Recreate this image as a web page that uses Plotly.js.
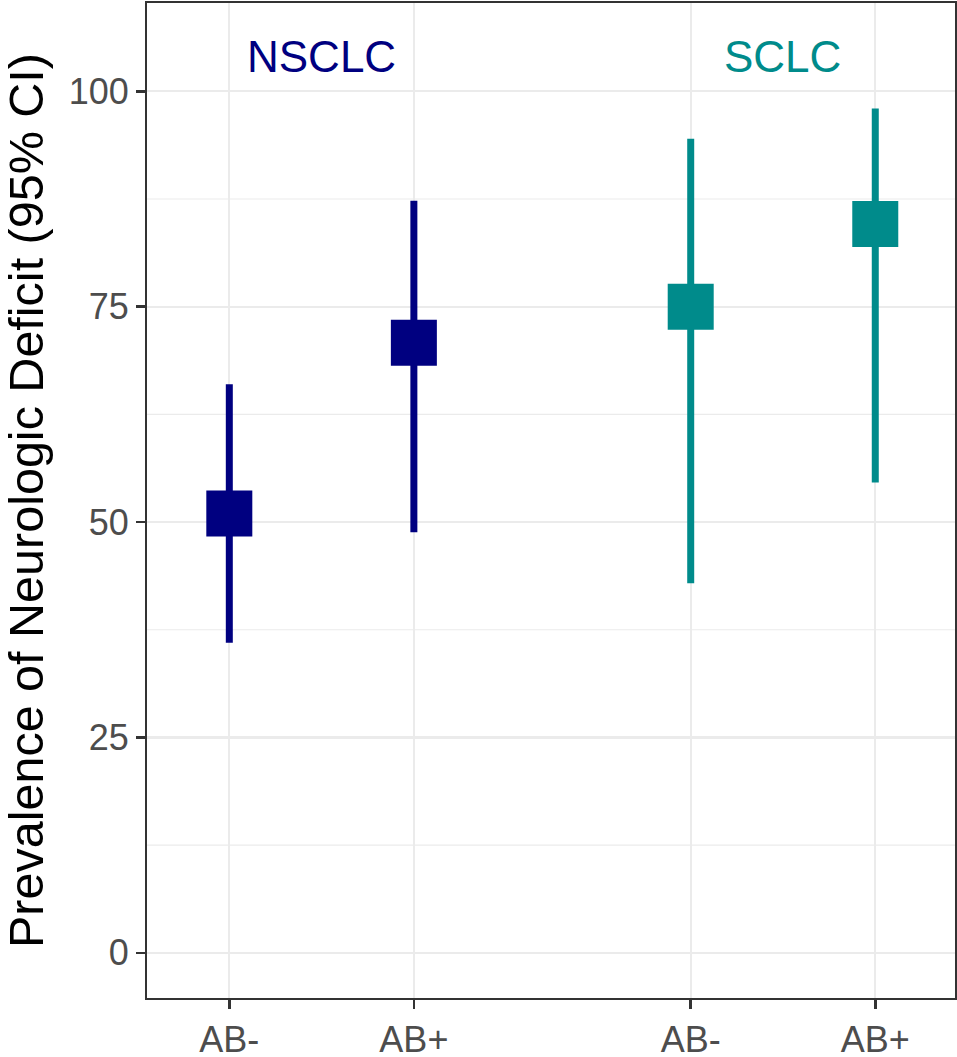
<!DOCTYPE html>
<html>
<head>
<meta charset="utf-8">
<script src="https://cdn.plot.ly/plotly-3.0.1.min.js"></script>
<style>html,body{margin:0;padding:0;background:#fff;}#chart{width:957px;height:1057px;}</style>
</head>
<body>
<div id="chart"></div>
<script>
const tickPositions = [1, 2, 3.5, 4.5];
const tickLabels = ["AB-", "AB+", "AB-", "AB+"];
const groups = ["NSCLC", "SCLC"];
const groupColors = ["#000080", "#008B8B"];
const nsclcX = [1, 2];
const nsclcEst = [51.0, 70.8];
const nsclcLo = [36.0, 48.8];
const nsclcHi = [66.0, 87.3];
const sclcX = [3.5, 4.5];
const sclcEst = [75.0, 84.6];
const sclcLo = [42.9, 54.6];
const sclcHi = [94.5, 98.0];
const labelX = [1.5, 4.0];
const labelY = [104, 104];

function makeTrace(x, est, lo, hi, color, name) {
  return {
    type: 'scatter', mode: 'markers', name: name, x: x, y: est,
    marker: {symbol: 'square', size: 46, color: color, line: {width: 0}},
    error_y: {type: 'data', symmetric: false,
      array: est.map((v, i) => hi[i] - v),
      arrayminus: est.map((v, i) => v - lo[i]),
      thickness: 7, width: 0, color: color},
    hoverinfo: 'x+y', showlegend: false
  };
}

const data = [
  makeTrace(nsclcX, nsclcEst, nsclcLo, nsclcHi, groupColors[0], groups[0]),
  makeTrace(sclcX, sclcEst, sclcLo, sclcHi, groupColors[1], groups[1])
];

const minorVals = [12.5, 37.5, 62.5, 87.5];
const shapes = minorVals.map(v => ({type: 'line', xref: 'paper', yref: 'y', x0: 0, x1: 1, y0: v, y1: v,
  line: {color: '#EBEBEB', width: 1.1}, layer: 'below'}));

const annotations = groups.map((g, i) => ({
  x: labelX[i], y: labelY[i], xref: 'x', yref: 'y', text: g, showarrow: false,
  font: {family: 'Liberation Sans, Arial, sans-serif', size: 44, color: groupColors[i]},
  xanchor: 'center', yanchor: 'middle'
}));
annotations.push({
  xref: 'paper', yref: 'paper', x: (26 - 147) / 808, y: (998 - 501) / 995,
  text: 'Prevalence of Neurologic Deficit (95% CI)', textangle: -90, showarrow: false,
  font: {family: 'Liberation Sans, Arial, sans-serif', size: 48.5, color: '#000000'},
  xanchor: 'center', yanchor: 'middle'
});

const layout = {
  width: 957, height: 1057,
  margin: {l: 147, r: 2, t: 3, b: 59},
  paper_bgcolor: '#ffffff', plot_bgcolor: '#ffffff',
  showlegend: false,
  xaxis: {
    range: [0.554, 4.932], tickvals: tickPositions, ticktext: tickLabels,
    showgrid: true, gridcolor: '#EBEBEB', gridwidth: 2.2, zeroline: false,
    ticks: 'outside', ticklen: 9, tickwidth: 2.5, tickcolor: '#333333',
    showline: true, linecolor: '#333333', linewidth: 2, mirror: true,
    tickfont: {family: 'Liberation Sans, Arial, sans-serif', size: 36, color: '#4D4D4D'}
  },
  yaxis: {
    range: [-5.25, 110.25], tickvals: [0, 25, 50, 75, 100],
    showgrid: true, gridcolor: '#EBEBEB', gridwidth: 2.2, zeroline: false,
    ticks: 'outside', ticklen: 9, tickwidth: 2.5, tickcolor: '#333333',
    showline: true, linecolor: '#333333', linewidth: 2, mirror: true,
    tickfont: {family: 'Liberation Sans, Arial, sans-serif', size: 36, color: '#4D4D4D'}
  },
  shapes: shapes,
  annotations: annotations
};

Plotly.newPlot('chart', data, layout, {displayModeBar: false, staticPlot: true});
</script>
</body>
</html>
